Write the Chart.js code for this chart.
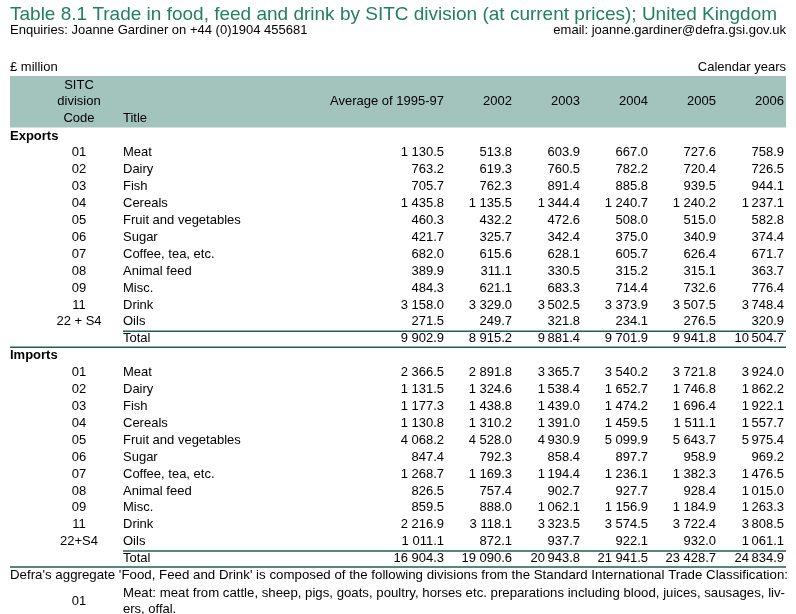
<!DOCTYPE html>
<html>
<head>
<meta charset="utf-8">
<script src="https://cdn.jsdelivr.net/npm/chart.js@4.4.1/dist/chart.umd.min.js"></script>
<style>
  html, body { margin: 0; padding: 0; background: #fff; }
  #wrap { width: 796px; height: 614px; position: relative; }
</style>
</head>
<body>
<div id="wrap"><canvas id="table"></canvas></div>
<script>
// column headers
const columns = ['Average of 1995-97', '2002', '2003', '2004', '2005', '2006'];

const codesExports = ['01', '02', '03', '04', '05', '06', '07', '08', '09', '11', '22 + S4'];
const codesImports = ['01', '02', '03', '04', '05', '06', '07', '08', '09', '11', '22+S4'];
const titles = ['Meat', 'Dairy', 'Fish', 'Cereals', 'Fruit and vegetables', 'Sugar',
  'Coffee, tea, etc.', 'Animal feed', 'Misc.', 'Drink', 'Oils'];

// exports, £ million, one array per column
const exportsAvg  = [1130.5, 763.2, 705.7, 1435.8, 460.3, 421.7, 682.0, 389.9, 484.3, 3158.0, 271.5];
const exports2002 = [513.8, 619.3, 762.3, 1135.5, 432.2, 325.7, 615.6, 311.1, 621.1, 3329.0, 249.7];
const exports2003 = [603.9, 760.5, 891.4, 1344.4, 472.6, 342.4, 628.1, 330.5, 683.3, 3502.5, 321.8];
const exports2004 = [667.0, 782.2, 885.8, 1240.7, 508.0, 375.0, 605.7, 315.2, 714.4, 3373.9, 234.1];
const exports2005 = [727.6, 720.4, 939.5, 1240.2, 515.0, 340.9, 626.4, 315.1, 732.6, 3507.5, 276.5];
const exports2006 = [758.9, 726.5, 944.1, 1237.1, 582.8, 374.4, 671.7, 363.7, 776.4, 3748.4, 320.9];
const exportsTotal = [9902.9, 8915.2, 9881.4, 9701.9, 9941.8, 10504.7];

// imports, £ million
const importsAvg  = [2366.5, 1131.5, 1177.3, 1130.8, 4068.2, 847.4, 1268.7, 826.5, 859.5, 2216.9, 1011.1];
const imports2002 = [2891.8, 1324.6, 1438.8, 1310.2, 4528.0, 792.3, 1169.3, 757.4, 888.0, 3118.1, 872.1];
const imports2003 = [3365.7, 1538.4, 1439.0, 1391.0, 4930.9, 858.4, 1194.4, 902.7, 1062.1, 3323.5, 937.7];
const imports2004 = [3540.2, 1652.7, 1474.2, 1459.5, 5099.9, 897.7, 1236.1, 927.7, 1156.9, 3574.5, 922.1];
const imports2005 = [3721.8, 1746.8, 1696.4, 1511.1, 5643.7, 958.9, 1382.3, 928.4, 1184.9, 3722.4, 932.0];
const imports2006 = [3924.0, 1862.2, 1922.1, 1557.7, 5975.4, 969.2, 1476.5, 1015.0, 1263.3, 3808.5, 1061.1];
const importsTotal = [16904.3, 19090.6, 20943.8, 21941.5, 23428.7, 24834.9];

const titleText = 'Table 8.1 Trade in food, feed and drink by SITC division (at current prices); United Kingdom';
const enquiries = 'Enquiries: Joanne Gardiner on +44 (0)1904 455681';
const email = 'email: joanne.gardiner@defra.gsi.gov.uk';
const footNote = "Defra's aggregate 'Food, Feed and Drink' is composed of the following divisions from the Standard International Trade Classification:";
const footCode = '01';
const footLines = ['Meat: meat from cattle, sheep, pigs, goats, poultry, horses etc. preparations including blood, juices, sausages, liv-', 'ers, offal.'];

const exportCols = [exportsAvg, exports2002, exports2003, exports2004, exports2005, exports2006];
const importCols = [importsAvg, imports2002, imports2003, imports2004, imports2005, imports2006];

// row keys for the y category scale
const rowKeys = ['Exports']
  .concat(titles.map((t, i) => 'E' + i), ['ETotal', 'Imports'])
  .concat(titles.map((t, i) => 'I' + i), ['ITotal']);

const FONT = '"Liberation Sans", Arial, sans-serif';
const GREEN = '#23805f';
const BAND = '#a3c4bd';
const RULE = '#1f5f55';
const CODE_X = 79;   // centre of code column
const TITLE_X = 123; // left of title column
const TABLE_LEFT = 10;

// thousands separated with a space, as in the source
const fmt = (v, sep) => {
  const [a, b] = v.toFixed(1).split('.');
  return a.replace(/\B(?=(\d{3})+(?!\d))/g, sep) + '.' + b;
};
const seps = [' ', ' ', '\u2009', ' ', ' ', '\u2009'];

const datasets = columns.map((col, c) => {
  const data = [];
  exportCols[c].forEach((v, i) => data.push({ x: col, y: 'E' + i, v }));
  data.push({ x: col, y: 'ETotal', v: exportsTotal[c] });
  importCols[c].forEach((v, i) => data.push({ x: col, y: 'I' + i, v }));
  data.push({ x: col, y: 'ITotal', v: importsTotal[c] });
  return { label: col, data, showLine: false, pointRadius: 0, pointHoverRadius: 0 };
});

// fit text to an exact width by scaling horizontally
const fitText = (ctx, text, x, y, width) => {
  const w = ctx.measureText(text).width;
  ctx.save();
  ctx.translate(x, y);
  ctx.scale(width / w, 1);
  ctx.fillText(text, 0, 0);
  ctx.restore();
};

const tablePlugin = {
  id: 'tableText',
  beforeDraw: (chart) => {
    const { ctx, chartArea, scales } = chart;
    const yS = scales.y;
    const xS = scales.x;
    const colW = xS.width / columns.length;
    const rowH = yS.height / rowKeys.length;
    ctx.save();
    ctx.fillStyle = '#fff';
    ctx.fillRect(0, 0, chart.width, chart.height);

    // title block
    ctx.textBaseline = 'alphabetic';
    ctx.fillStyle = GREEN;
    ctx.font = '19px ' + FONT;
    ctx.textAlign = 'left';
    ctx.fillText(titleText, TABLE_LEFT, 20);
    ctx.fillStyle = '#000';
    ctx.font = '13px ' + FONT;
    ctx.fillText(enquiries, TABLE_LEFT, 34);
    ctx.textAlign = 'right';
    ctx.fillText(email, chartArea.right, 34);
    ctx.font = '13px ' + FONT;
    ctx.textBaseline = 'middle';
    ctx.textAlign = 'left';
    ctx.fillText('£ million', TABLE_LEFT, 67);
    ctx.textAlign = 'right';
    ctx.fillText('Calendar years', chartArea.right, 67);

    // header band
    const bandTop = 76;
    ctx.fillStyle = BAND;
    ctx.fillRect(TABLE_LEFT, bandTop, chartArea.right - TABLE_LEFT, chartArea.top - bandTop);
    const mid = (bandTop + chartArea.top) / 2;
    ctx.fillStyle = '#000';
    ctx.font = '13px ' + FONT;
    ctx.textAlign = 'center';
    ctx.fillText('SITC', CODE_X, mid - 16.5);
    ctx.fillText('division', CODE_X, mid);
    ctx.fillText('Code', CODE_X, mid + 16.5);
    ctx.textAlign = 'left';
    ctx.fillText('Title', TITLE_X, mid + 16.5);
    ctx.textAlign = 'right';
    columns.forEach((col) => {
      ctx.fillText(col, xS.getPixelForValue(xS.getLabels().indexOf(col)) + colW / 2 - 2, mid);
    });

    // row labels
    const yOf = (key) => yS.getPixelForValue(rowKeys.indexOf(key));
    ctx.font = 'bold 13px ' + FONT;
    ctx.textAlign = 'left';
    ctx.fillText('Exports', TABLE_LEFT, yOf('Exports'));
    ctx.fillText('Imports', TABLE_LEFT, yOf('Imports'));
    ctx.font = '13px ' + FONT;
    titles.forEach((t, i) => {
      ctx.textAlign = 'center';
      ctx.fillText(codesExports[i], CODE_X, yOf('E' + i));
      ctx.fillText(codesImports[i], CODE_X, yOf('I' + i));
      ctx.textAlign = 'left';
      ctx.fillText(t, TITLE_X, yOf('E' + i));
      ctx.fillText(t, TITLE_X, yOf('I' + i));
    });
    ctx.fillText('Total', TITLE_X, yOf('ETotal'));
    ctx.fillText('Total', TITLE_X, yOf('ITotal'));

    // rules around the totals
    ctx.strokeStyle = RULE;
    ctx.lineWidth = 1.5;
    ['ETotal', 'ITotal'].forEach((k) => {
      const y = yOf(k);
      ctx.beginPath();
      ctx.moveTo(TITLE_X, y - rowH / 2 + 1);
      ctx.lineTo(chartArea.right, y - rowH / 2 + 1);
      ctx.moveTo(TABLE_LEFT, y + rowH / 2);
      ctx.lineTo(chartArea.right, y + rowH / 2);
      ctx.stroke();
    });

    // footnote
    ctx.fillStyle = '#000';
    ctx.font = '13px ' + FONT;
    ctx.textAlign = 'left';
    fitText(ctx, footNote, TABLE_LEFT, 575, 778);
    fitText(ctx, footLines[0], TITLE_X, 593, 662);
    ctx.fillText(footLines[1], TITLE_X, 609);
    ctx.textAlign = 'center';
    ctx.fillText(footCode, CODE_X, 601);
    ctx.restore();
  },
  afterDatasetsDraw: (chart) => {
    const { ctx, scales } = chart;
    const colW = scales.x.width / columns.length;
    ctx.save();
    ctx.font = '13px ' + FONT;
    ctx.fillStyle = '#000';
    ctx.textAlign = 'right';
    ctx.textBaseline = 'middle';
    chart.data.datasets.forEach((ds, c) => {
      const meta = chart.getDatasetMeta(c);
      meta.data.forEach((el, i) => {
        ctx.fillText(fmt(ds.data[i].v, seps[c]), el.x + colW / 2 - 2, el.y);
      });
    });
    ctx.restore();
  }
};

new Chart(document.getElementById('table'), {
  type: 'line',
  data: { datasets },
  options: {
    responsive: true,
    maintainAspectRatio: false,
    animation: false,
    events: [],
    layout: { padding: { left: 378, right: 10, top: 127.5, bottom: 47 } },
    scales: {
      x: { type: 'category', labels: columns, offset: true, display: false },
      y: { type: 'category', labels: rowKeys, offset: true, display: false }
    },
    plugins: { legend: { display: false }, tooltip: { enabled: false } }
  },
  plugins: [tablePlugin]
});
</script>
</body>
</html>
